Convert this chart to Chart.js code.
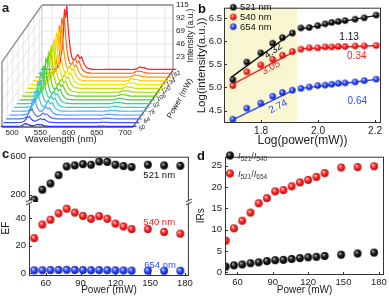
<!DOCTYPE html>
<html><head><meta charset="utf-8">
<script src="https://cdn.jsdelivr.net/npm/chart.js@4.4.0/dist/chart.umd.min.js"></script>
<style>
html,body{margin:0;padding:0;background:#fff;}
#wrap{position:relative;width:389px;height:296px;overflow:hidden;background:#fff;}
.pn{position:absolute;}
canvas{display:block;}
</style></head><body>
<div id="wrap">
<div class="pn" style="left:0;top:0;"><canvas id="ca" width="195" height="148"></canvas></div>
<div class="pn" style="left:195px;top:0;"><canvas id="cb" width="194" height="148"></canvas></div>
<div class="pn" style="left:0;top:148px;"><canvas id="cc" width="195" height="148"></canvas></div>
<div class="pn" style="left:195px;top:148px;"><canvas id="cd" width="194" height="148"></canvas></div>
</div>
<script>
// ---------------- DATA ----------------
const powers = [50,57,64,71,78,85,92,99,106,113,120,127,134,148,162,176];

// panel a : spectra (wavelength grid, normalised band profiles, peak heights per power)
const wavelengths = [480,500,508,512,515,518,520,522,524,526,528,531,534,537,540,543,546,549,552,555,558,562,567,575,600,630,645,650,653,656,659,662,665,670,680,700,720];
const band521 =     [0,0,0.02,0.06,0.15,0.35,0.6,0.95,0.82,1.0,0.7,0.4,0.2,0.1,0.05,0.03,0.01,0,0,0,0,0,0,0,0,0,0,0,0,0,0,0,0,0,0,0,0];
const band540 =     [0,0,0,0,0,0,0,0,0,0,0,0.05,0.12,0.25,0.5,0.8,1.0,0.75,0.9,0.55,0.3,0.12,0.04,0,0,0,0,0,0,0,0,0,0,0,0,0,0];
const band654 =     [0,0,0,0,0,0,0,0,0,0,0,0,0,0,0,0,0,0,0,0,0,0,0,0,0,0,0,0.3,0.7,1.0,0.6,0.8,0.5,0.15,0,0,0];
const peak521 = [5,11,18,29,38,48,59,63,71,76,80,85,89,96,103,112];
const peak540 = [3.5,7,10,14,17,19,20,21,22,22.5,23,23.5,24,24,24.5,25];
const peak654 = [0.5,0.8,1.1,1.5,1.9,2.2,2.5,2.8,3.0,3.2,3.4,3.6,3.8,4.1,4.4,4.7];
const baseLevel = 1;
const aWaveTicks = [500,550,600,650,700];
const aIntTicks = [23,46,69,92,115];
const aPowerTicks = [50,64,78,92,106,120,134,162];

// panel b : log-log
const logPower = [1.701,1.750,1.799,1.841,1.875,1.910,1.940,1.969,1.999,2.025,2.048,2.071,2.095,2.130,2.162,2.204];
const log521 = [5.17,5.55,5.75,5.96,6.08,6.18,6.29,6.30,6.34,6.38,6.41,6.43,6.45,6.48,6.51,6.57];
const log540 = [5.04,5.34,5.49,5.61,5.70,5.78,5.83,5.86,5.86,5.88,5.88,5.89,5.89,5.90,5.90,5.91];
const log654 = [4.31,4.55,4.66,4.81,4.89,4.94,4.98,5.01,5.04,5.05,5.07,5.09,5.10,5.12,5.15,5.18];
const fitLowX = [1.695,1.919], fitHighX = [1.94,2.21];
const fit521Low = [5.22,6.23], fit521High = [6.27,6.57];
const fit540Low = [5.05,5.79], fit540High = [5.84,5.91];
const fit654Low = [4.28,4.96], fit654High = [4.98,5.18];
const slopes = ['4.32','3.05','2.74','1.13','0.34','0.64'];
const bTicksX = [1.8,2.0,2.2], bTicksY = [4.5,5.0,5.5,6.0,6.5];
const bShadeEnd = 1.927;

// panel c : EF
const ef521 = [145,251,316,405,497,508,521,515,549,545,515,501,491,515,508,504];
const ef540 = [25.4,35.3,38.8,43.5,46.8,44.0,41.6,39.5,41.4,39.5,36.0,33.9,32.0,32.0,29.9,28.7];
const ef654 = [2.0,2.1,2.2,2.3,2.4,2.3,2.2,2.1,2.2,2.1,2.0,1.9,1.8,1.8,1.7,1.7];
const cTicksX = [60,90,120,150,180], cTicksLow = [0,20,40], cTicksHigh = [200,400,600];

// panel d : intensity ratios
const ir540 = [1.3,1.6,1.8,2.1,2.3,2.6,2.8,2.9,3.1,3.3,3.5,3.6,3.8,4.1,4.4,4.6];
const ir654 = [7.4,10.3,12.1,14.0,16.2,17.4,19.0,19.3,20.2,21.1,21.7,22.4,23.3,24.6,24.7,24.9];
const dTicksX = [60,90,120,150,180], dTicksY = [0,5,10,15,20,25];

// ---------------- STYLE HELPERS ----------------
const FONT = "'Liberation Sans', Arial, Helvetica, sans-serif";
Chart.defaults.font.family = FONT;
Chart.defaults.color = '#222';
Chart.defaults.animation = false;

function ball(color, hi, dark, r){
  const s = Math.ceil(2*r+2), c = document.createElement('canvas');
  c.width = s; c.height = s;
  const g = c.getContext('2d'), cx = s/2, cy = s/2;
  const gr = g.createRadialGradient(cx-r*0.35, cy-r*0.4, r*0.05, cx, cy, r);
  gr.addColorStop(0, hi); gr.addColorStop(0.5, color); gr.addColorStop(1, dark);
  g.fillStyle = gr; g.beginPath(); g.arc(cx, cy, r, 0, Math.PI*2); g.fill();
  return c;
}
const BALL = r => ({
  k: ball('#1a1a1a', '#bbbbbb', '#000000', r),
  r: ball('#ff2a2a', '#ffd8d8', '#c00000', r),
  b: ball('#2f4dff', '#d8e0ff', '#0a1aa8', r)
});
const ballsB = BALL(3.2), ballsC = BALL(3.9);
const pts = (xs, ys) => xs.map((x,i)=>({x, y: ys[i]}));

const frame = {id:'frame', afterDatasetsDraw(ch){
  const {ctx, chartArea:a} = ch; ctx.save();
  ctx.strokeStyle = '#333'; ctx.lineWidth = 1;
  ctx.strokeRect(a.left+0.5, a.top+0.5, a.right-a.left-1, a.bottom-a.top-1);
  ctx.restore();
}};
function inTicks(axes){ // small inward ticks
  return {id:'inticks', afterDatasetsDraw(ch){
    const {ctx, chartArea:a} = ch; ctx.save(); ctx.strokeStyle='#333'; ctx.lineWidth=1;
    axes.forEach(id=>{
      const s = ch.scales[id];
      s.ticks.forEach(t=>{
        const p = Math.round(s.getPixelForValue(t.value))+0.5;
        ctx.beginPath();
        if (s.isHorizontal()){ ctx.moveTo(p, a.bottom); ctx.lineTo(p, a.bottom-3); }
        else { ctx.moveTo(a.left, p); ctx.lineTo(a.left+3, p); }
        ctx.stroke();
      });
    });
    ctx.restore();
  }};
}
const setTicks = arr => s => { s.ticks = arr.map(v=>({value:v})); };
const noGrid = {display:false, drawTicks:false};
const noBorder = {display:false};

// ---------------- PANEL A ----------------
const aCols = ['#3030f0','#3f55ff','#4f78ff','#559cff','#3fc0f0','#33cccc','#3acf9a','#44cc55','#66d022','#9ada00','#c8e000','#f0e800','#ffcc00','#ff9a00','#ff6020','#ff2020'];
const depthNm = 70.8, depthInt = 100.8;
const wMin = 482, wMax = 714, iMax = 115;
const aDatasets = powers.map((p, i) => {
  const v = i/(powers.length-1);
  return {
    data: wavelengths.map((w,k)=>({
      x: w + v*depthNm,
      y: baseLevel + peak521[i]*band521[k] + peak540[i]*band540[k] + peak654[i]*band654[k] + v*depthInt
    })),
    showLine: true, borderColor: aCols[i], borderWidth: 1.2, pointRadius: 0, tension: 0.15
  };
});
const aPlugin = {id:'box3d',
  beforeDatasetsDraw(ch){
    const {ctx} = ch, X = ch.scales.x, Y = ch.scales.y;
    const P = (w, v, I) => [X.getPixelForValue(w + v*depthNm), Y.getPixelForValue(I + v*depthInt)];
    const line = (a, b, col, lw) => { ctx.strokeStyle = col; ctx.lineWidth = lw; ctx.beginPath(); ctx.moveTo(a[0],a[1]); ctx.lineTo(b[0],b[1]); ctx.stroke(); };
    ctx.save();
    const gcol = '#dcdcdc';
    aWaveTicks.forEach(w => line(P(w,1,0), P(w,1,iMax), gcol, 0.7));
    aIntTicks.forEach(I => line(P(wMin,1,I), P(wMax,1,I), gcol, 0.7));
    aIntTicks.forEach(I => line(P(wMin,0,I), P(wMin,1,I), gcol, 0.7));
    aPowerTicks.forEach(p => { const v = powers.indexOf(p)/(powers.length-1); line(P(wMin,v,0), P(wMin,v,iMax), gcol, 0.7); line(P(wMin,v,0), P(wMax,v,0), '#eeeeee', 0.6); });
    aWaveTicks.forEach(w => line(P(w,0,0), P(w,1,0), '#eeeeee', 0.6));
    const fcol = '#8a8a8a';
    line(P(wMin,1,iMax), P(wMax,1,iMax), fcol, 1.6);
    line(P(wMax,1,0), P(wMax,1,iMax), fcol, 1.2);
    line(P(wMin,0,iMax), P(wMin,1,iMax), fcol, 1.3);
    line(P(wMin,0,0), P(wMin,0,iMax), fcol, 1.3);
    line(P(wMin,1,0), P(wMin,1,iMax), '#bbbbbb', 0.8);
    line(P(wMin,0,0), P(wMax,0,0), '#555', 1.3);
    line(P(wMax,0,0), P(wMax,1,0), '#555', 1.3);
    ctx.restore();
  },
  afterDatasetsDraw(ch){
    const {ctx} = ch, X = ch.scales.x, Y = ch.scales.y;
    const P = (w, v, I) => [X.getPixelForValue(w + v*depthNm), Y.getPixelForValue(I + v*depthInt)];
    ctx.save(); ctx.fillStyle = '#222';
    ctx.font = `8px ${FONT}`; ctx.textAlign = 'center'; ctx.textBaseline = 'top';
    aWaveTicks.forEach(w => { const q = P(w,0,0); ctx.fillText(String(w), q[0], q[1]+2); });
    ctx.textAlign = 'left'; ctx.textBaseline = 'middle';
    aIntTicks.forEach(I => { const q = P(wMax,1,I); ctx.fillText(String(I), q[0]+3, q[1]); });
    ctx.font = `italic 6px ${FONT}`; ctx.textAlign = 'center';
    aPowerTicks.forEach(p => { const v = powers.indexOf(p)/(powers.length-1); const q = P(wMax,v,0);
      ctx.save(); ctx.translate(q[0]+9-v*4, q[1]+1); ctx.rotate(-0.5); ctx.fillText(String(p), 0, 0); ctx.restore(); });
    ctx.font = `9.5px ${FONT}`; ctx.textBaseline = 'middle';
    const b0 = P((wMin+wMax)/2 - 12, 0, 0); ctx.fillText('Wavelength (nm)', b0[0], b0[1]+12);
    ctx.font = `8.5px ${FONT}`;
    const t0 = P(wMax,1,iMax/2); ctx.save(); ctx.translate(t0[0]+18, t0[1]-2); ctx.rotate(-Math.PI/2); ctx.fillText('Intensity (a.u.)', 0, 0); ctx.restore();
    ctx.font = `8px ${FONT}`;
    const pp = P(wMax,0.5,0); ctx.save(); ctx.translate(pp[0]+27, pp[1]); ctx.rotate(-1.06); ctx.fillText('Power (mW)', 0, 0); ctx.restore();
    ctx.font = `bold 13px ${FONT}`; ctx.textAlign = 'left'; ctx.textBaseline = 'alphabetic';
    ctx.fillText('a', 2, 12);
    ctx.restore();
  }
};
new Chart(document.getElementById('ca'), {
  type:'scatter', data:{datasets: aDatasets},
  options:{responsive:false, events:[], layout:{padding:0},
    plugins:{legend:{display:false}, tooltip:{enabled:false}},
    scales:{x:{display:false, min:478.5, max:823.7}, y:{display:false, min:-37.2, max:224.7}}},
  plugins:[aPlugin]
});

// ---------------- PANEL B ----------------
const bShade = {id:'shade', beforeDatasetsDraw(ch){
  const {ctx, chartArea:a} = ch, xe = ch.scales.x.getPixelForValue(bShadeEnd);
  ctx.save(); ctx.fillStyle = '#f8f7d2'; ctx.fillRect(a.left, a.top, xe-a.left, a.bottom-a.top); ctx.restore();
}};
const bLabels = {id:'blabels', afterDatasetsDraw(ch){
  const {ctx} = ch, X = ch.scales.x, Y = ch.scales.y;
  const items = [
    [slopes[0], 1.843, 5.79, -0.62, '#111'],
    [slopes[1], 1.835, 5.43, -0.50, '#ff2020'],
    [slopes[2], 1.860, 4.586, -0.47, '#2f4dff'],
    [slopes[3], 2.109, 6.095, 0, '#111'],
    [slopes[4], 2.136, 5.671, 0, '#ff2020'],
    [slopes[5], 2.138, 4.710, 0, '#2f4dff']
  ];
  ctx.save(); ctx.font = `10px ${FONT}`; ctx.textAlign = 'center'; ctx.textBaseline = 'middle';
  items.forEach(([t,x,y,r,c]) => { ctx.save(); ctx.translate(X.getPixelForValue(x), Y.getPixelForValue(y)); ctx.rotate(r); ctx.fillStyle = c; ctx.fillText(t,0,0); ctx.restore(); });
  // legend
  const leg = [['521 nm', ballsB.k], ['540 nm', ballsB.r], ['654 nm', ballsB.b]];
  ctx.textAlign = 'left'; ctx.fillStyle = '#111'; ctx.font = `9.5px ${FONT}`;
  leg.forEach(([t, img], i) => { const y = 7.3 + i*9.7; ctx.drawImage(img, 38.3-img.width/2, y-img.height/2); ctx.fillText(t, 45, y+0.5); });
  ctx.font = `bold 13px ${FONT}`; ctx.textBaseline = 'alphabetic'; ctx.fillText('b', 3, 13);
  ctx.restore();
}};
const fitDs = (xs, ys, col) => ({type:'line', data: pts(xs, ys), borderColor: col, borderWidth: 1.4, pointRadius: 0, showLine: true});
new Chart(document.getElementById('cb'), {
  type:'scatter',
  data:{datasets:[
    {data: pts(logPower, log521), pointStyle: ballsB.k},
    {data: pts(logPower, log540), pointStyle: ballsB.r},
    {data: pts(logPower, log654), pointStyle: ballsB.b},
    fitDs(fitLowX, fit521Low, '#111'), fitDs(fitHighX, fit521High, '#111'),
    fitDs(fitLowX, fit540Low, '#ff2020'), fitDs(fitHighX, fit540High, '#ff2020'),
    fitDs(fitLowX, fit654Low, '#2f4dff'), fitDs(fitHighX, fit654High, '#2f4dff')
  ]},
  options:{responsive:false, events:[], layout:{padding:{top:2,right:8,left:0,bottom:0}},
    plugins:{legend:{display:false}, tooltip:{enabled:false}},
    scales:{
      x:{type:'linear', min:1.670, max:2.221, afterBuildTicks:setTicks(bTicksX), grid:noGrid, border:noBorder,
         ticks:{font:{size:10}, padding:2, callback:v=>v.toFixed(1)},
         title:{display:true, text:'Log(power(mW))', font:{size:12}, padding:{top:0,bottom:0}},
         afterFit:s=>{s.height=25;}},
      y:{min:4.23, max:6.73, afterBuildTicks:setTicks(bTicksY), grid:noGrid, border:noBorder,
         ticks:{font:{size:9.5}, padding:2, callback:v=>v.toFixed(1)},
         title:{display:true, text:'Log(intensity(a.u.))', font:{size:11.5}, padding:{top:0,bottom:0}},
         afterFit:s=>{s.width=29;}}
    }},
  plugins:[bShade, frame, inTicks(['x','y']), bLabels]
});

// ---------------- PANEL C ----------------
const cDeco = {id:'cdeco', afterDatasetsDraw(ch){
  const {ctx, chartArea:a} = ch, X = ch.scales.x, Yl = ch.scales.y, Yh = ch.scales.y2;
  ctx.save();
  const yb = Yl.top;
  [a.left, a.right].forEach(x => {
    ctx.fillStyle = '#fff'; ctx.fillRect(x-4, yb-1.5, 8, 3);
    ctx.strokeStyle = '#333'; ctx.lineWidth = 1;
    [-1.5, 1.5].forEach(o => { ctx.beginPath(); ctx.moveTo(x-3, yb+o+1.5); ctx.lineTo(x+3, yb+o-1.5); ctx.stroke(); });
  });
  ctx.font = `9.5px ${FONT}`; ctx.textAlign = 'center'; ctx.textBaseline = 'middle';
  ctx.fillStyle = '#111'; ctx.fillText('521 nm', X.getPixelForValue(157.8), Yh.getPixelForValue(405));
  ctx.fillStyle = '#ff2020'; ctx.fillText('540 nm', X.getPixelForValue(157.8), Yl.getPixelForValue(36.9));
  ctx.fillStyle = '#2f4dff'; ctx.fillText('654 nm', X.getPixelForValue(158.5), Yl.getPixelForValue(5.9));
  ctx.fillStyle = '#111'; ctx.font = `10px ${FONT}`;
  ctx.save(); ctx.translate(6, 80); ctx.rotate(-Math.PI/2); ctx.fillText('EF', 0, 0); ctx.restore();
  ctx.font = `bold 13px ${FONT}`; ctx.textAlign = 'left'; ctx.textBaseline = 'alphabetic'; ctx.fillText('c', 2, 10);
  ctx.restore();
}};
new Chart(document.getElementById('cc'), {
  type:'scatter',
  data:{datasets:[
    {data: pts(powers, ef521), pointStyle: ballsC.k, yAxisID:'y2'},
    {data: pts(powers, ef540), pointStyle: ballsC.r, yAxisID:'y'},
    {data: pts(powers, ef654), pointStyle: ballsC.b, yAxisID:'y'}
  ]},
  options:{responsive:false, events:[], layout:{padding:{top:5,right:5,left:0,bottom:0}},
    plugins:{legend:{display:false}, tooltip:{enabled:false}},
    scales:{
      x:{type:'linear', min:45.5, max:183.4, afterBuildTicks:setTicks(cTicksX), grid:noGrid, border:noBorder,
         ticks:{font:{size:9.5}, padding:2},
         title:{display:true, text:'Power (mW)', font:{size:10}, padding:{top:0,bottom:0}},
         afterFit:s=>{s.height=20;}},
      y:{stack:'ef', stackWeight:76.3, min:-2.1, max:51.7, afterBuildTicks:setTicks(cTicksLow), grid:noGrid, border:noBorder,
         ticks:{font:{size:9.5}, padding:3}, afterFit:s=>{s.width=29;}},
      y2:{stack:'ef', stackWeight:46.7, position:'left', min:121, max:600, afterBuildTicks:setTicks(cTicksHigh), grid:noGrid, border:noBorder,
         ticks:{font:{size:9.5}, padding:3}, afterFit:s=>{s.width=29;}}
    }},
  plugins:[frame, inTicks(['x','y','y2']), cDeco]
});

// ---------------- PANEL D ----------------
const dDeco = {id:'ddeco', afterDatasetsDraw(ch){
  const {ctx} = ch; ctx.save();
  const rows = [[ballsC.k, '540', 7.5], [ballsC.r, '654', 25.5]];
  rows.forEach(([img, sub, y]) => {
    ctx.drawImage(img, 35-img.width/2, y-img.height/2);
    let x = 43; ctx.fillStyle = '#333'; ctx.textBaseline = 'alphabetic'; ctx.textAlign = 'left';
    const part = (t, f, dy) => { ctx.font = f; ctx.fillText(t, x, y+3+dy); x += ctx.measureText(t).width; };
    part('I', `italic 9px ${FONT}`, 0); part('521', `6.5px ${FONT}`, 2);
    part('/', `9px ${FONT}`, 0); part('I', `italic 9px ${FONT}`, 0); part(sub, `6.5px ${FONT}`, 2);
  });
  ctx.fillStyle = '#111'; ctx.font = `bold 13px ${FONT}`; ctx.fillText('d', 2, 12);
  ctx.restore();
}};
new Chart(document.getElementById('cd'), {
  type:'scatter',
  data:{datasets:[
    {data: pts(powers, ir540), pointStyle: ballsC.k},
    {data: pts(powers, ir654), pointStyle: ballsC.r}
  ]},
  options:{responsive:false, events:[], layout:{padding:{top:2,right:4,left:0,bottom:0}},
    plugins:{legend:{display:false}, tooltip:{enabled:false}},
    scales:{
      x:{type:'linear', min:49.4, max:184.4, afterBuildTicks:setTicks(dTicksX), grid:noGrid, border:noBorder,
         ticks:{font:{size:9.5}, padding:2},
         title:{display:true, text:'Power (mW)', font:{size:10}, padding:{top:0,bottom:0}},
         afterFit:s=>{s.height=21;}},
      y:{min:-0.67, max:27.15, afterBuildTicks:setTicks(dTicksY), grid:noGrid, border:noBorder,
         ticks:{font:{size:9.5}, padding:3},
         title:{display:true, text:'IRs', font:{size:10}, padding:{top:0,bottom:0}},
         afterFit:s=>{s.width=30;}}
    }},
  plugins:[frame, inTicks(['x','y']), dDeco]
});
</script>
</body></html>
